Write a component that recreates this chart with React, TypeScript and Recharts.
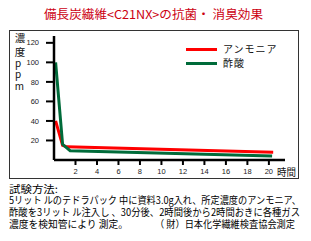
import { LineChart, Line, XAxis, YAxis } from "recharts";

// 経過時間（時間）と濃度（ppm）
const ammoniaHours = [0.15, 0.8, 1.2, 20.4];
const ammoniaPpm = [40, 15, 13.5, 8];
const aceticHours = [0.15, 0.8, 1.5, 20.3];
const aceticPpm = [100, 16, 9.5, 4];

const xTicks = [2, 4, 6, 8, 10, 12, 14, 16, 18, 20];
const yTicks = [20, 40, 60, 80, 100, 120];

const series = [
  { name: "アンモニア", color: "#ff0000", hours: ammoniaHours, ppm: ammoniaPpm },
  { name: "酢酸", color: "#006b3a", hours: aceticHours, ppm: aceticPpm },
];

const notes = [
  { text: "試験方法:", x: 9, y: 193, len: 49 },
  { text: "5リット ルのテドラパック 中に資料3.0g入れ、所定濃度のアンモニア、", x: 9, y: 204, len: 292 },
  { text: "酢酸を3リット ル注入し 、30分後、2時間後から2時間おきに各種ガス", x: 9, y: 216, len: 291 },
  { text: "濃度を検知管により 測定。", x: 9, y: 227.5, len: 119 },
  { text: "（ 財）日本化学繊維検査協会測定", x: 155, y: 227.5, len: 140 },
];

const font = "'Noto Sans CJK JP', sans-serif";
const tickStyle = { fontSize: 7.5, fill: "#222", fontFamily: "'Liberation Sans', Arial, sans-serif" };

function LegendBox() {
  return (
    <div style={{ position: "absolute", left: 186, top: 42, fontFamily: font, fontSize: 10, lineHeight: "14px" }}>
      {series.map((s) => (
        <div key={s.name} style={{ display: "flex", alignItems: "center", height: 14 }}>
          <span style={{ display: "inline-block", width: 31, height: 3, background: s.color, marginRight: 6 }} />
          <span style={{ letterSpacing: 1, color: "#111" }}>{s.name}</span>
        </div>
      ))}
    </div>
  );
}

export default function App() {
  return (
    <div style={{ position: "absolute", left: 0, top: 0, width: 311, height: 241, background: "#fff" }}>
      <div
        style={{
          position: "absolute",
          left: 9,
          top: 30,
          width: 290,
          height: 149,
          border: "1px solid #333",
          boxSizing: "border-box",
        }}
      />
      <div style={{ position: "absolute", left: 0, top: 0 }}>
        <LineChart width={311} height={241} margin={{ top: 36, right: 26, bottom: 61, left: 10 }}>
          <XAxis
            type="number"
            dataKey="t"
            domain={[0, 21.5]}
            ticks={xTicks}
            allowDuplicatedCategory={false}
            height={20}
            tickSize={5}
            tickMargin={4}
            tick={tickStyle}
            axisLine={{ stroke: "#000", strokeWidth: 2.5 }}
            tickLine={{ stroke: "#000", strokeWidth: 2 }}
          />
          <YAxis
            type="number"
            domain={[0, 127]}
            ticks={yTicks}
            width={44}
            tickSize={8}
            tickMargin={7}
            tick={tickStyle}
            axisLine={{ stroke: "#000", strokeWidth: 2.5 }}
            tickLine={{ stroke: "#000", strokeWidth: 2 }}
          />
          {series.map((s) => (
            <Line
              key={s.name}
              name={s.name}
              data={s.hours.map((t, i) => ({ t, v: s.ppm[i] }))}
              dataKey="v"
              type="linear"
              stroke={s.color}
              strokeWidth={3}
              dot={false}
              isAnimationActive={false}
            />
          ))}
        </LineChart>
      </div>
      <LegendBox />
      <svg
        width={311}
        height={241}
        style={{ position: "absolute", left: 0, top: 0, pointerEvents: "none" }}
        fontFamily={font}
      >
        <text x={44} y={19} fontSize={12} fill="#cc0011" textLength={219} lengthAdjust="spacingAndGlyphs">
          備長炭繊維&lt;C21NX&gt;の抗菌・ 消臭効果
        </text>
        <text x={20} y={41.5} fontSize={10.5} textAnchor="middle" fill="#111">濃</text>
        <text x={20} y={55.5} fontSize={10.5} textAnchor="middle" fill="#111">度</text>
        <text x={18} y={67} fontSize={10} textAnchor="middle" fill="#111">p</text>
        <text x={18} y={78} fontSize={10} textAnchor="middle" fill="#111">p</text>
        <text x={19.5} y={90} fontSize={10} textAnchor="middle" fill="#111">m</text>
        <text x={277} y={175.5} fontSize={10} fill="#111" textLength={19} lengthAdjust="spacingAndGlyphs">時間</text>
        {notes.map((n) => (
          <text
            key={n.text}
            x={n.x}
            y={n.y}
            fontSize={10}
            fill="#000"
            textLength={n.len}
            lengthAdjust="spacingAndGlyphs"
          >
            {n.text}
          </text>
        ))}
      </svg>
    </div>
  );
}
